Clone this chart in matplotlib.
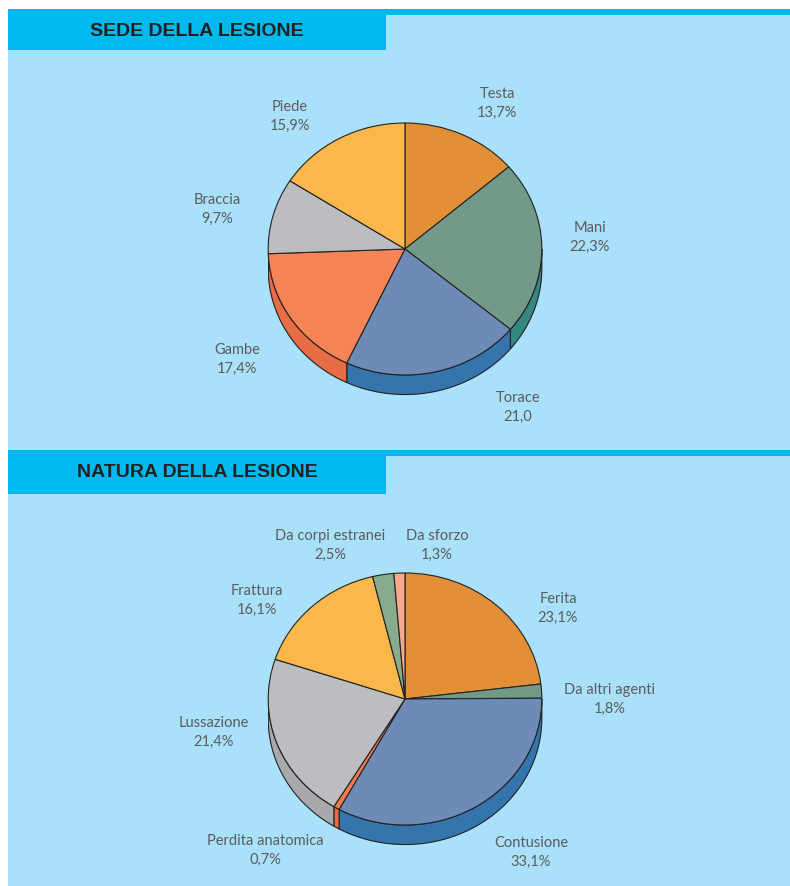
import numpy as np
import matplotlib
matplotlib.use("Agg")
import matplotlib.pyplot as plt
from matplotlib.patches import Rectangle, Polygon

# ---------------- data ----------------
sede_labels = ["Testa", "Mani", "Torace", "Gambe", "Braccia", "Piede"]
sede_values = [13.7, 22.3, 21.0, 17.4, 9.7, 15.9]
sede_texts = ["13,7%", "22,3%", "21,0", "17,4%", "9,7%", "15,9%"]

natura_labels = ["Ferita", "Da altri agenti", "Contusione", "Perdita anatomica",
                 "Lussazione", "Frattura", "Da corpi estranei", "Da sforzo"]
natura_values = [23.1, 1.8, 33.1, 0.7, 21.4, 16.1, 2.5, 1.3]
natura_texts = ["23,1%", "1,8%", "33,1%", "0,7%", "21,4%", "16,1%", "2,5%", "1,3%"]

titles = ["SEDE DELLA LESIONE", "NATURA DELLA LESIONE"]

# ---------------- styles ----------------
sede_colors = ["#e38f36", "#739a89", "#6e8bb8", "#f58456", "#bcbdc0", "#fab84c"]
sede_side = ["#c87a2a", "#368684", "#3575ae", "#e86c44", "#a7a8ab", "#e0a040"]
natura_colors = ["#e38f36", "#739a89", "#6e8bb8", "#f47b4d", "#bcbdc0", "#fab84c",
                 "#88ab8e", "#f7a98a"]
natura_side = ["#c87a2a", "#368684", "#3575ae", "#e86c44", "#a8a9ac", "#e0a040",
               "#6f9275", "#e08f70"]

# label positions in pixels (center x, y of first line)
sede_pos = [(497, 94), (590, 228), (518, 398), (237, 350), (217, 200), (290, 107)]
natura_pos = [(558, 599), (610, 690), (531, 843), (265, 841), (214, 723),
              (257, 591), (330, 536), (437, 536)]

W, H = 790, 887
LIGHT = "#a9e0fa"
CYAN = "#00b9ef"
TEXTC = "#5c5c5c"

fig = plt.figure(figsize=(W / 100, H / 100), dpi=100)
fig.patch.set_facecolor("white")
bg = fig.add_axes([0, 0, 1, 1])
bg.set_xlim(0, W)
bg.set_ylim(H, 0)
bg.axis("off")

# panels
bg.add_patch(Rectangle((8, 10), W - 8, 441, facecolor=LIGHT, edgecolor="none"))
bg.add_patch(Rectangle((8, 10), W - 8, 6, facecolor=CYAN, edgecolor="none"))
bg.add_patch(Rectangle((8, 10), 378, 41, facecolor=CYAN, edgecolor="none"))
bg.add_patch(Rectangle((8, 451), W - 8, H - 451, facecolor=LIGHT, edgecolor="none"))
bg.add_patch(Rectangle((8, 451), W - 8, 6, facecolor=CYAN, edgecolor="none"))
bg.add_patch(Rectangle((8, 451), 378, 44, facecolor=CYAN, edgecolor="none"))

bg.text(197, 31, titles[0], ha="center", va="center", fontsize=14,
        fontweight="bold", color="#222222", family=["Liberation Sans", "DejaVu Sans"])
bg.text(197, 473, titles[1], ha="center", va="center", fontsize=14,
        fontweight="bold", color="#222222", family=["Liberation Sans", "DejaVu Sans"])

DEPTH = 0.155


def pie3d(cx, cy_top, rx, ry, values, colors, sides):
    # axes such that data [-1,1]x[-1-DEPTH,1] maps to the ellipse box
    left = cx - rx
    top = cy_top
    height_px = ry * (2 + DEPTH + 0.02)
    ax = fig.add_axes([left / W, 1 - (top + height_px) / H, 2 * rx / W, height_px / H])
    wedges, _ = ax.pie(values, colors=colors, startangle=90, counterclock=False,
                       wedgeprops=dict(edgecolor="#222222", linewidth=0.8),
                       normalize=True)
    for w in wedges:
        w.set_zorder(3)
    ax.set_aspect("auto")
    ax.set_xlim(-1.005, 1.005)
    ax.set_ylim(-1 - DEPTH - 0.02, 1.0)
    ax.axis("off")
    for w, sc in zip(wedges, sides):
        t1, t2 = w.theta1, w.theta2
        for k in (-1, 0, 1):
            a = max(t1, -180 + 360 * k)
            b = min(t2, 0 + 360 * k)
            if b > a:
                t = np.radians(np.linspace(a, b, 80))
                xs = np.cos(t)
                ys = np.sin(t)
                pts = np.concatenate([np.column_stack([xs, ys]),
                                      np.column_stack([xs[::-1], ys[::-1] - DEPTH])])
                ax.add_patch(Polygon(pts, closed=True, facecolor=sc,
                                     edgecolor="#222222", linewidth=0.8, zorder=2))
    return ax


pie3d(405, 124, 137.5, 126, sede_values, sede_colors, sede_side)
pie3d(405, 574, 137.5, 126, natura_values, natura_colors, natura_side)

lab_font = dict(fontsize=10.5, color=TEXTC, family=["Lato", "DejaVu Sans"],
                ha="center", va="center", linespacing=1.45)
for lab, txt, (x, y) in zip(sede_labels, sede_texts, sede_pos):
    bg.text(x, y + 9, lab + "\n" + txt, **lab_font)
for lab, txt, (x, y) in zip(natura_labels, natura_texts, natura_pos):
    bg.text(x, y + 9, lab + "\n" + txt, **lab_font)

fig.savefig("out.png", dpi=100, facecolor="white")
